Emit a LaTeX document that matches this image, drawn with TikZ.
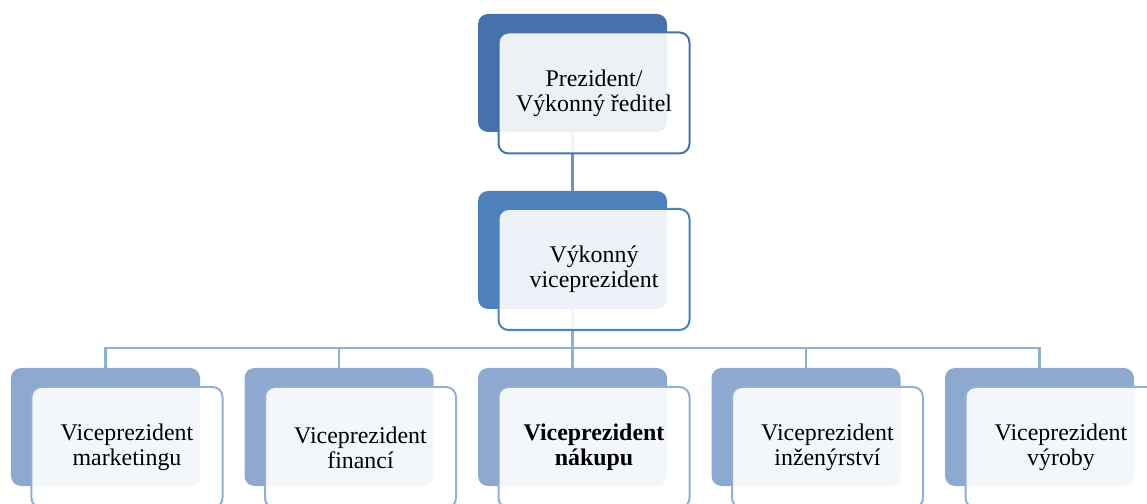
\documentclass[tikz,border=0pt]{standalone}
\usepackage{fontspec}
\setmainfont{Liberation Serif}
\begin{document}
\definecolor{topblue}{HTML}{4671AA}
\definecolor{midblue}{HTML}{4F81BD}
\definecolor{lowblue}{HTML}{8EA9CF}
\definecolor{lowline}{HTML}{93AED4}
\begin{tikzpicture}[x=1bp,y=-1bp,
  backbox/.style={rounded corners=10bp, minimum width=189bp, minimum height=118bp,
    inner sep=0pt, outer sep=0pt, fill=#1, draw=none},
  frontbox/.style={rounded corners=10bp, minimum width=191bp, minimum height=121bp,
    inner sep=0pt, outer sep=0pt, draw=#1, line width=2bp, fill=white, fill opacity=0.9,
    text opacity=1, align=center, font=\fontsize{23.9bp}{25bp}\selectfont},
  link/.style={draw=#1, line width=2.2bp}]
\useasboundingbox (0,0) rectangle (1147,504);
\clip (0,0) rectangle (1147,504);

% back plates
\node[backbox=topblue] (pres-b) at (572.5,73) {};
\node[backbox=midblue] (evp-b) at (572.5,250) {};
\node[backbox=lowblue] (mkt-b) at (105.5,427) {};
\node[backbox=lowblue] (fin-b) at (339,427) {};
\node[backbox=lowblue] (pur-b) at (572.5,427) {};
\node[backbox=lowblue] (eng-b) at (806,427) {};
\node[backbox=lowblue] (prd-b) at (1039.5,427) {};

% connectors
\coordinate (bus) at (572.5,348);
\draw[link=midblue!85] (pres-b.south) -- (evp-b.north);
\draw[link=lowline] (evp-b.south) -- (bus);
\draw[link=lowline] (mkt-b.north) |- (bus);
\draw[link=lowline] (fin-b.north) |- (bus);
\draw[link=lowline] (pur-b.north) -- (bus);
\draw[link=lowline] (eng-b.north) |- (bus);
\draw[link=lowline] (prd-b.north) |- (bus);

% front cards
\node[frontbox=topblue] (pres) at (594,93) {Prezident/\\Výkonný ředitel};
\node[frontbox=midblue] (evp) at (594,269.5) {Výkonný\\viceprezident};
\node[frontbox=lowline] (mkt) at (127,447.5) {Viceprezident\\marketingu};
\node[frontbox=lowline] (fin) at (360.5,447.5) {Viceprezident\\financí};
\node[frontbox=lowline] (pur) at (594,447.5) {\bfseries Viceprezident\\\bfseries nákupu};
\node[frontbox=lowline] (eng) at (827.5,447.5) {Viceprezident\\inženýrství};
\node[frontbox=lowline] (prd) at (1061,447.5) {Viceprezident\\výroby};
\end{tikzpicture}
\end{document}
